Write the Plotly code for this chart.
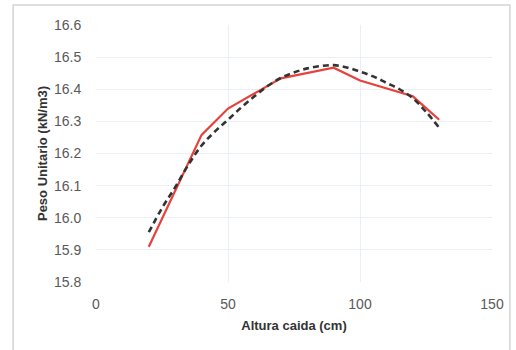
import plotly.graph_objects as go

# Measured data (red solid)
x_meas = [20, 40, 50, 70, 90, 100, 120, 130]
y_meas = [15.91, 16.258, 16.34, 16.434, 16.467, 16.427, 16.378, 16.305]

# Fitted trend (black dashed)
x_fit = [20, 25, 30, 35, 40, 45, 50, 55, 60, 65, 70, 75, 80, 85, 90, 95, 100, 105, 110, 115, 120, 125, 130]
y_fit = [15.955, 16.03, 16.095, 16.165, 16.225, 16.268, 16.305, 16.343, 16.378, 16.41, 16.435, 16.452, 16.465, 16.472, 16.475, 16.468, 16.455, 16.44, 16.42, 16.40, 16.372, 16.33, 16.28]

x_ticks = [0, 50, 100, 150]
y_ticks = [15.8, 15.9, 16.0, 16.1, 16.2, 16.3, 16.4, 16.5, 16.6]

fig = go.Figure()
fig.add_trace(go.Scatter(x=x_meas, y=y_meas, mode="lines",
                         line=dict(color="#e8403a", width=2.2), showlegend=False))
fig.add_trace(go.Scatter(x=x_fit, y=y_fit, mode="lines", line_shape="spline",
                         line=dict(color="#333333", width=2.6, dash="6px,4px"), showlegend=False))

grid = "#e9eff2"
fig.update_layout(
    width=516, height=350,
    margin=dict(l=96, r=21, t=25, b=68),
    paper_bgcolor="white", plot_bgcolor="white",
    font=dict(family="Liberation Sans, Arial, sans-serif", color="#595959", size=14),
    xaxis=dict(range=[0, 150], tickvals=x_ticks, ticktext=[str(v) for v in x_ticks],
               showgrid=True, gridcolor=grid, gridwidth=1, zeroline=False,
               showline=False, ticks="outside", ticklen=9, tickcolor="rgba(0,0,0,0)",
               tickfont=dict(size=14, color="#595959"),
               title=dict(text="<b>Altura caida (cm)</b>", font=dict(size=13, color="#333333"), standoff=10)),
    yaxis=dict(range=[15.8, 16.6], tickvals=y_ticks, ticktext=[f"{v:.1f}" for v in y_ticks],
               showgrid=True, gridcolor=grid, gridwidth=1, zeroline=False,
               showline=False, ticks="outside", ticklen=11, tickcolor="rgba(0,0,0,0)",
               tickfont=dict(size=14, color="#595959"),
               title=dict(text="<b>Peso Unitario (kN/m3)</b>", font=dict(size=13, color="#333333"), standoff=3)),
)

# outer chart frame
fig.add_shape(type="rect", xref="paper", yref="paper",
              x0=(12.5 - 96) / 399, x1=(513 - 96) / 399,
              y0=-0.3, y1=(282 - 5) / 257,
              line=dict(color="#d4d4d4", width=1.5), fillcolor="rgba(0,0,0,0)", layer="below")

fig.write_html("out.html")
